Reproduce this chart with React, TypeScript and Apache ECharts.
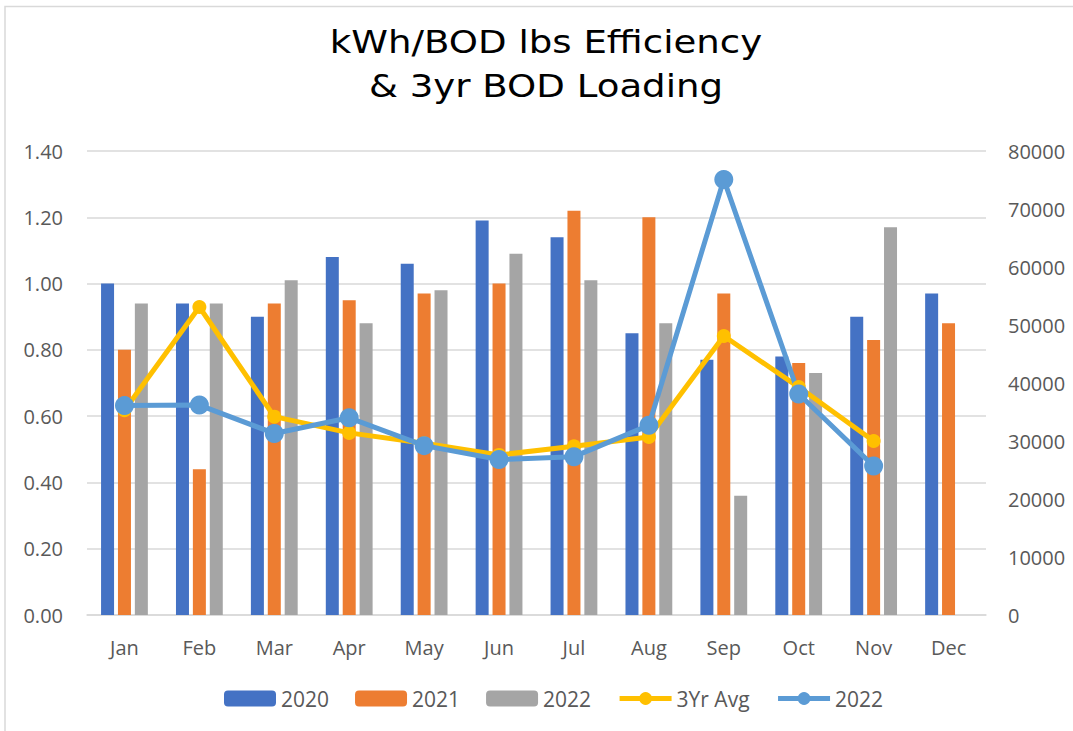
import React, { useEffect, useRef } from "react";
import * as echarts from "echarts";

const months = ["Jan", "Feb", "Mar", "Apr", "May", "Jun", "Jul", "Aug", "Sep", "Oct", "Nov", "Dec"];
const eff2020 = [1.0, 0.94, 0.9, 1.08, 1.06, 1.19, 1.14, 0.85, 0.77, 0.78, 0.9, 0.97];
const eff2021 = [0.8, 0.44, 0.94, 0.95, 0.97, 1.0, 1.22, 1.2, 0.97, 0.76, 0.83, 0.88];
const eff2022 = [0.94, 0.94, 1.01, 0.88, 0.98, 1.09, 1.01, 0.88, 0.36, 0.73, 1.17, null];
const avg3yr = [35300, 53100, 34200, 31400, 29600, 27600, 29100, 30700, 48100, 39300, 30000, null];
const load2022 = [36100, 36200, 31300, 34000, 29200, 26800, 27300, 32700, 75100, 38100, 25700, null];
const titleLines = ["kWh/BOD lbs Efficiency", "& 3yr BOD Loading"];
const legendNames = ["2020", "2021", "2022", "3Yr Avg", "2022 "];

export default function App() {
  const ref = useRef<HTMLDivElement>(null);
  useEffect(() => {
    document.body.style.margin = "0";
    const chart = echarts.init(ref.current!, null, { renderer: "svg" });
    const labelFont = "Open Sans";
    const grey = "#595959";
    chart.setOption({
      animation: false,
      backgroundColor: "#ffffff",
      graphic: [
        {
          type: "rect",
          shape: { x: 5, y: 6.5, width: 1100, height: 800 },
          style: { fill: "none", stroke: "#d9d9d9", lineWidth: 1.5 },
          silent: true,
        },
        {
          type: "text",
          x: 546,
          y: 42,
          scaleX: 1.16,
          style: {
            text: titleLines[0],
            fontFamily: "DejaVu Sans",
            fontSize: 32,
            fill: "#000000",
            align: "center",
            verticalAlign: "middle",
          },
        },
        {
          type: "text",
          x: 546,
          y: 85.5,
          scaleX: 1.16,
          style: {
            text: titleLines[1],
            fontFamily: "DejaVu Sans",
            fontSize: 32,
            fill: "#000000",
            align: "center",
            verticalAlign: "middle",
          },
        },
      ],
      legend: {
        data: legendNames,
        left: 219,
        top: 683,
        itemWidth: 52,
        itemHeight: 16,
        itemGap: 26,
        lineStyle: { width: 5 },
        formatter: (n: string) => n.trim(),
        textStyle: { fontFamily: labelFont, fontSize: 21, color: grey },
      },
      grid: { left: 87, right: 87, top: 151, bottom: 116 },
      xAxis: {
        type: "category",
        data: months,
        axisLine: { lineStyle: { color: "#d9d9d9", width: 1.5 } },
        axisTick: { show: false },
        axisLabel: { color: grey, fontSize: 20, fontFamily: labelFont, margin: 22 },
      },
      yAxis: [
        {
          type: "value",
          min: 0,
          max: 1.4,
          interval: 0.2,
          axisLine: { show: false },
          axisTick: { show: false },
          splitLine: { lineStyle: { color: "#d9d9d9", width: 1.5 } },
          axisLabel: {
            color: grey,
            fontSize: 20,
            fontFamily: labelFont,
            margin: 24,
            formatter: (v: number) => v.toFixed(2),
          },
        },
        {
          type: "value",
          position: "right",
          min: 0,
          max: 80000,
          interval: 10000,
          axisLine: { show: false },
          axisTick: { show: false },
          splitLine: { show: false },
          axisLabel: {
            color: grey,
            fontSize: 20,
            fontFamily: labelFont,
            margin: 22,
            formatter: (v: number) => String(v),
          },
        },
      ],
      series: [
        { name: "2020", type: "bar", data: eff2020, barWidth: 13, barGap: "30%", itemStyle: { color: "#4472C4" } },
        { name: "2021", type: "bar", data: eff2021, barWidth: 13, barGap: "30%", itemStyle: { color: "#ED7D31" } },
        { name: "2022", type: "bar", data: eff2022, barWidth: 13, barGap: "30%", itemStyle: { color: "#A5A5A5" } },
        {
          name: "3Yr Avg",
          type: "line",
          yAxisIndex: 1,
          data: avg3yr,
          symbol: "circle",
          symbolSize: 14,
          lineStyle: { color: "#FFC000", width: 5 },
          itemStyle: { color: "#FFC000" },
        },
        {
          name: "2022 ",
          type: "line",
          yAxisIndex: 1,
          data: load2022,
          symbol: "circle",
          symbolSize: 19,
          lineStyle: { color: "#5B9BD5", width: 5 },
          itemStyle: { color: "#5B9BD5" },
        },
      ],
    });
    return () => chart.dispose();
  }, []);
  return <div ref={ref} style={{ width: 1073, height: 731 }} />;
}
